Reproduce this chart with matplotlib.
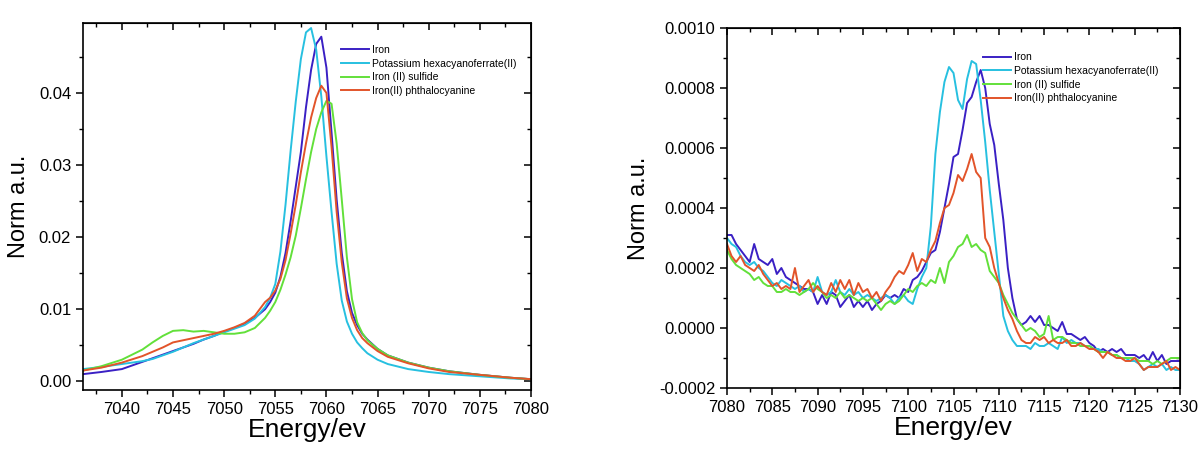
import numpy as np
import matplotlib
matplotlib.use("Agg")
import matplotlib.pyplot as plt
from matplotlib.ticker import MultipleLocator, FormatStrFormatter

plt.rcParams['font.family'] = ['Liberation Sans', 'DejaVu Sans']
plt.rcParams['axes.unicode_minus'] = False

# --- series names / colours ---
names = ["Iron", "Potassium hexacyanoferrate(II)", "Iron (II) sulfide",
         "Iron(II) phthalocyanine"]
colors = ["#3a20c4", "#27c0e0", "#62e03a", "#e2542a"]

# --- left panel: main edge (energy in eV) ---
e_left = [7036.2, 7038, 7040, 7042, 7043, 7044, 7045, 7046, 7047, 7048,
          7049, 7050, 7051, 7052, 7053, 7054, 7054.5, 7055, 7055.5, 7056,
          7056.5, 7057, 7057.5, 7058, 7058.5, 7059, 7059.5, 7060, 7060.5, 7061,
          7061.5, 7062, 7062.5, 7063, 7063.5, 7064, 7065, 7066, 7068, 7070,
          7072, 7075, 7078, 7080]

iron_l = [0.0010, 0.0013, 0.0017, 0.0027, 0.0032, 0.0037, 0.0042, 0.0047, 0.0052, 0.0058,
          0.0063, 0.0069, 0.0074, 0.0080, 0.0088, 0.0100, 0.0110, 0.0123, 0.0145, 0.0178,
          0.0222, 0.0270, 0.0318, 0.0380, 0.0432, 0.0468, 0.0478, 0.0435, 0.0345, 0.0252,
          0.0178, 0.0125, 0.0095, 0.0078, 0.0066, 0.0058, 0.0045, 0.0036, 0.0026, 0.0019,
          0.0014, 0.0009, 0.0005, 0.0003]
kfe_l = [0.0017, 0.0020, 0.0024, 0.0028, 0.0031, 0.0036, 0.0041, 0.0047, 0.0053, 0.0058,
         0.0063, 0.0068, 0.0073, 0.0078, 0.0087, 0.0103, 0.0116, 0.0135, 0.0180, 0.0245,
         0.0320, 0.0388, 0.0447, 0.0484, 0.0490, 0.0460, 0.0395, 0.0312, 0.0235, 0.0163,
         0.0112, 0.0083, 0.0066, 0.0054, 0.0046, 0.0039, 0.0030, 0.0024, 0.0017, 0.0013,
         0.0010, 0.0007, 0.0004, 0.0003]
fes_l = [0.0015, 0.0021, 0.0030, 0.0044, 0.0054, 0.0063, 0.0070, 0.0071, 0.0069, 0.0070,
         0.0068, 0.0066, 0.0066, 0.0068, 0.0074, 0.0088, 0.0098, 0.0110, 0.0127, 0.0148,
         0.0172, 0.0202, 0.0240, 0.0280, 0.0318, 0.0350, 0.0373, 0.0389, 0.0385, 0.0330,
         0.0252, 0.0172, 0.0114, 0.0082, 0.0067, 0.0057, 0.0045, 0.0036, 0.0026, 0.0019,
         0.0014, 0.0009, 0.0005, 0.0003]
pc_l = [0.0015, 0.0019, 0.0026, 0.0035, 0.0041, 0.0047, 0.0054, 0.0057, 0.0060, 0.0063,
        0.0066, 0.0070, 0.0075, 0.0081, 0.0091, 0.0110, 0.0116, 0.0126, 0.0142, 0.0168,
        0.0205, 0.0245, 0.0290, 0.0330, 0.0366, 0.0393, 0.0410, 0.0400, 0.0325, 0.0235,
        0.0165, 0.0115, 0.0088, 0.0071, 0.0060, 0.0053, 0.0042, 0.0034, 0.0025, 0.0018,
        0.0013, 0.0009, 0.0005, 0.0003]

# --- right panel: pre-edge region, 0.5 eV steps, values in 1e-4 ---
e_right = np.linspace(7080, 7130, 101)

iron_r = [3.1, 3.1, 2.8, 2.6, 2.4, 2.2, 2.8, 2.3, 2.2, 2.1,
          2.3, 1.8, 2.0, 1.7, 1.6, 1.5, 1.4, 1.3, 1.3, 1.2,
          0.8, 1.1, 0.8, 1.2, 1.1, 0.7, 0.9, 1.1, 0.7, 0.9,
          0.7, 0.9, 0.6, 0.8, 0.9, 1.1, 1.0, 1.1, 1.0, 1.3,
          1.2, 1.6, 1.7, 1.9, 2.2, 2.5, 2.6, 3.2, 4.0, 4.8,
          5.7, 5.8, 6.6, 7.5, 7.7, 8.2, 8.6, 8.0, 6.8, 6.1,
          4.8, 3.6, 2.0, 1.0, 0.3, 0.1, 0.2, 0.4, 0.2, 0.4,
          0.1, 0.1, 0.0, -0.1, 0.2, -0.2, -0.2, -0.3, -0.4, -0.3,
          -0.5, -0.6, -0.8, -0.7, -0.8, -0.7, -0.8, -0.7, -0.9, -0.9,
          -0.9, -1.0, -0.9, -1.1, -0.8, -1.1, -0.9, -1.2, -1.1, -1.1,
          -1.1]
kfe_r = [3.0, 2.8, 2.7, 2.4, 2.2, 2.1, 2.2, 2.0, 1.9, 1.7,
         1.5, 1.4, 1.6, 1.5, 1.4, 1.3, 1.4, 1.2, 1.3, 1.2,
         1.7, 1.2, 1.1, 1.2, 1.6, 1.2, 1.1, 1.3, 1.1, 1.2,
         1.0, 1.1, 1.0, 0.9, 1.0, 1.1, 1.0, 0.8, 1.0, 1.1,
         0.9, 0.8, 1.3, 1.7, 2.0, 3.4, 5.8, 7.2, 8.2, 8.7,
         8.5, 7.6, 7.3, 8.3, 8.9, 8.8, 7.6, 6.2, 4.6, 3.2,
         1.8, 0.4, -0.1, -0.4, -0.6, -0.6, -0.6, -0.7, -0.5, -0.6,
         -0.6, -0.5, -0.6, -0.7, -0.3, -0.5, -0.4, -0.5, -0.5, -0.6,
         -0.6, -0.7, -0.7, -0.8, -0.8, -0.9, -0.9, -1.0, -1.0, -1.1,
         -1.1, -1.2, -1.4, -1.3, -1.2, -1.3, -1.2, -1.4, -1.3, -1.4,
         -1.4]
fes_r = [2.6, 2.3, 2.1, 2.0, 1.9, 1.8, 1.6, 1.7, 1.5, 1.4,
         1.4, 1.2, 1.2, 1.3, 1.2, 1.2, 1.1, 1.2, 1.3, 1.5,
         1.3, 1.2, 1.0, 1.1, 1.0, 1.2, 1.0, 1.1, 1.0, 0.9,
         1.0, 0.9, 1.0, 0.8, 0.6, 0.8, 0.9, 0.8, 0.9, 1.1,
         1.3, 1.2, 1.4, 1.5, 1.4, 1.6, 1.5, 2.0, 1.5, 2.2,
         2.4, 2.7, 2.8, 3.1, 2.7, 2.8, 2.6, 2.5, 1.9, 1.7,
         1.5, 1.1, 0.8, 0.5, 0.3, 0.1, -0.1, 0.0, -0.1, -0.3,
         -0.2, 0.4, -0.4, -0.3, -0.3, -0.4, -0.5, -0.5, -0.6, -0.6,
         -0.6, -0.7, -0.8, -0.8, -0.8, -0.9, -0.9, -1.0, -1.0, -1.0,
         -1.0, -1.1, -1.1, -1.1, -1.2, -1.1, -1.2, -1.1, -1.0, -1.0,
         -1.0]
pc_r = [2.8, 2.4, 2.2, 2.4, 2.1, 2.0, 1.9, 2.1, 1.8, 1.6,
        1.4, 1.5, 1.3, 1.4, 1.3, 2.0, 1.2, 1.4, 1.6, 1.2,
        1.4, 1.2, 1.1, 1.5, 1.2, 1.6, 1.3, 1.6, 1.1, 1.5,
        1.2, 1.3, 1.0, 1.2, 0.9, 1.2, 1.4, 1.7, 1.9, 1.8,
        2.1, 2.5, 1.9, 2.3, 2.2, 2.6, 2.9, 3.5, 4.0, 4.1,
        4.5, 5.1, 4.9, 5.3, 5.8, 5.2, 5.0, 3.0, 2.7, 2.0,
        1.5, 1.0, 0.6, 0.3, -0.1, -0.4, -0.5, -0.5, -0.3, -0.4,
        -0.3, -0.5, -0.4, -0.5, -0.5, -0.4, -0.6, -0.6, -0.5, -0.6,
        -0.7, -0.7, -0.8, -1.0, -0.8, -0.9, -1.0, -1.0, -1.1, -1.1,
        -1.0, -1.2, -1.4, -1.3, -1.3, -1.3, -1.2, -1.1, -1.4, -1.3,
        -1.4]

fig = plt.figure(figsize=(12, 4.58), dpi=100)
W, H = 1200, 458
ax1 = fig.add_axes([83 / W, 1 - 390 / H, 448 / W, 367 / H])
ax2 = fig.add_axes([727 / W, 1 - 388 / H, 453 / W, 360 / H])


def style_axes(ax, xmaj, ymaj, fmt):
    ax.xaxis.set_major_locator(MultipleLocator(xmaj))
    ax.xaxis.set_minor_locator(MultipleLocator(xmaj / 2))
    ax.yaxis.set_major_locator(MultipleLocator(ymaj))
    ax.yaxis.set_minor_locator(MultipleLocator(ymaj / 2))
    ax.yaxis.set_major_formatter(FormatStrFormatter(fmt))
    ax.tick_params(which='major', direction='out', length=5, width=1.1, labelsize=12)
    ax.tick_params(which='minor', direction='out', length=3, width=1.0)
    for sp in ax.spines.values():
        sp.set_linewidth(1.2)
    # mirrored ticks pointing inward on top / right
    top = ax.secondary_xaxis('top')
    top.xaxis.set_major_locator(MultipleLocator(xmaj))
    top.xaxis.set_minor_locator(MultipleLocator(xmaj / 2))
    top.tick_params(which='major', direction='in', length=5, width=1.1, labeltop=False)
    top.tick_params(which='minor', direction='in', length=3, width=1.0)
    right = ax.secondary_yaxis('right')
    right.yaxis.set_major_locator(MultipleLocator(ymaj))
    right.yaxis.set_minor_locator(MultipleLocator(ymaj / 2))
    right.tick_params(which='major', direction='in', length=5, width=1.1, labelright=False)
    right.tick_params(which='minor', direction='in', length=3, width=1.0)
    ax.set_xlabel('Energy/ev', fontsize=19, labelpad=1)
    ax.set_ylabel('Norm a.u.', fontsize=17, labelpad=6)


lefts = [iron_l, kfe_l, fes_l, pc_l]
for vals, name, col in zip(lefts, names, colors):
    ax1.plot(e_left, vals, color=col, lw=1.4, label=name)
ax1.set_xlim(7036.2, 7080)
ax1.set_ylim(-0.0012, 0.0497)
style_axes(ax1, 5, 0.01, '%.2f')
ax1.legend(loc='upper left', bbox_to_anchor=(0.575, 0.94), frameon=False,
           fontsize=7.5, handlelength=2.7, handletextpad=0.3, labelspacing=0.35,
           borderpad=0, borderaxespad=0)

rights = [iron_r, kfe_r, fes_r, pc_r]
for vals, name, col in zip(rights, names, colors):
    ax2.plot(e_right, np.array(vals) * 1e-4, color=col, lw=1.4, label=name)
ax2.set_xlim(7080, 7130)
ax2.set_ylim(-0.0002, 0.0010)
style_axes(ax2, 5, 0.0002, '%.4f')
ax2.legend(loc='upper left', bbox_to_anchor=(0.565, 0.932), frameon=False,
           fontsize=7.5, handlelength=2.7, handletextpad=0.3, labelspacing=0.35,
           borderpad=0, borderaxespad=0)

fig.savefig('out.png', dpi=100)
